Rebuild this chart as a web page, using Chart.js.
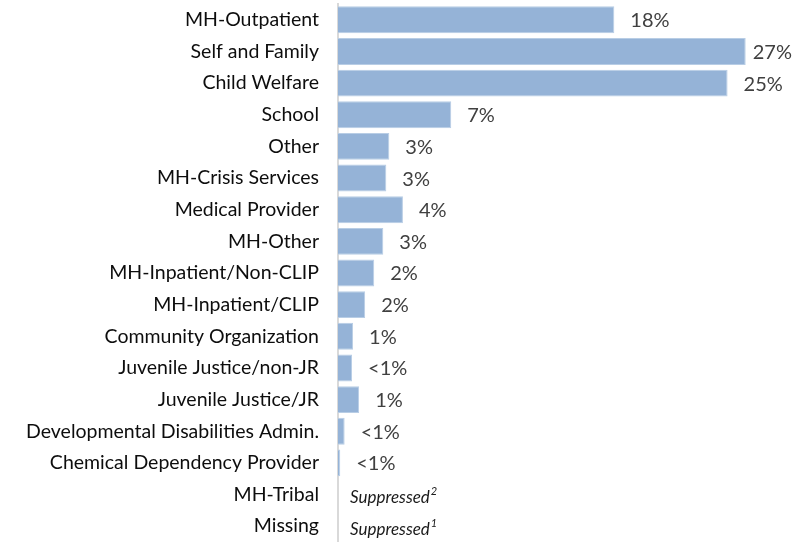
<!DOCTYPE html>
<html lang="en">
<head>
  <meta charset="UTF-8" />
  <title>Referral source</title>
  <script src="https://cdn.jsdelivr.net/npm/chart.js"></script>
  <style>
    body {
      margin: 0;
      padding: 0;
      background: #fff;
    }
    #wrap {
      width: 806px;
      height: 542px;
    }
  </style>
</head>
<body>
  <div id="wrap">
    <canvas id="refChart" width="806" height="542"></canvas>
  </div>

  <script>
    const categories = [
      "MH-Outpatient", "Self and Family", "Child Welfare", "School", "Other",
      "MH-Crisis Services", "Medical Provider", "MH-Other", "MH-Inpatient/Non-CLIP",
      "MH-Inpatient/CLIP", "Community Organization", "Juvenile Justice/non-JR",
      "Juvenile Justice/JR", "Developmental Disabilities Admin.",
      "Chemical Dependency Provider", "MH-Tribal", "Missing"
    ];
    // percent of referrals, null = suppressed
    const values = [18.3, 27.0, 25.8, 7.5, 3.4, 3.2, 4.3, 3.0, 2.4, 1.8, 1.0, 0.93, 1.4, 0.44, 0.15, null, null];
    const valueLabels = ["18%", "27%", "25%", "7%", "3%", "3%", "4%", "3%", "2%", "2%", "1%", "<1%", "1%", "<1%", "<1%", "Suppressed", "Suppressed"];
    const footnotes = ["", "", "", "", "", "", "", "", "", "", "", "", "", "", "", "2", "1"];

    const FONT = "Lato, 'Open Sans', sans-serif";

    // draws the % labels at the end of each bar (and the suppressed notes)
    const barLabels = {
      id: "barLabels",
      afterDatasetsDraw(chart) {
        const ctx = chart.ctx;
        const x = chart.scales.x, y = chart.scales.y;
        ctx.save();
        ctx.textBaseline = "middle";
        ctx.textAlign = "left";
        valueLabels.forEach((txt, i) => {
          const yy = y.getPixelForValue(i);
          if (values[i] === null) {
            ctx.font = "italic 17px " + FONT;
            ctx.fillStyle = "#1a1a1a";
            const tx = x.getPixelForValue(0) + 12;
            ctx.fillText(txt, tx, yy + 3);
            const w = ctx.measureText(txt).width;
            ctx.font = "italic 11px " + FONT;
            ctx.fillText(footnotes[i], tx + w + 1, yy - 3);
          } else {
            ctx.font = "20px " + FONT;
            ctx.fillStyle = "#404040";
            const w = ctx.measureText(txt).width;
            let tx = x.getPixelForValue(values[i]) + 16;
            if (tx + w > chart.width - 14) tx = chart.width - 14 - w;
            ctx.fillText(txt, tx, yy + 1);
          }
        });
        ctx.restore();
      }
    };

    new Chart(document.getElementById("refChart").getContext("2d"), {
      type: "bar",
      data: {
        labels: categories,
        datasets: [{
          data: values,
          backgroundColor: "#95b3d7",
          borderColor: "#b8cde5",
          borderWidth: 1,
          barPercentage: 0.85,
          categoryPercentage: 1.0,
        }],
      },
      options: {
        indexAxis: "y",
        responsive: false,
        animation: false,
        layout: { padding: { top: 4, right: 15, bottom: 0, left: 0 } },
        plugins: {
          legend: { display: false },
          tooltip: { enabled: false },
        },
        scales: {
          x: {
            display: false,
            min: 0,
            max: 30,
          },
          y: {
            grid: { display: false, drawTicks: false },
            border: { display: true, color: "#d9d9d9", width: 2 },
            ticks: {
              color: "#0d0d0d",
              padding: 19,
              font: { family: FONT, size: 19.5 },
            },
            afterFit(scale) {
              scale.width = 338;
              scale.paddingTop = 0;
              scale.paddingBottom = 0;
            },
          },
        },
      },
      plugins: [barLabels],
    });
  </script>
</body>
</html>
